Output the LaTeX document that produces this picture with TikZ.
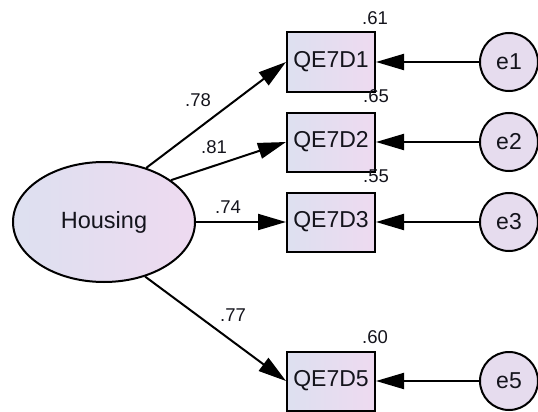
\documentclass[tikz,border=0pt]{standalone}
\usepackage{fontspec}
\setmainfont{Liberation Sans}
\usetikzlibrary{arrows.meta,shapes.geometric}
\definecolor{fillblue}{HTML}{DDE0F0}
\definecolor{fillpink}{HTML}{EEDAF0}
\definecolor{fillcirc}{HTML}{E6DCEE}
\definecolor{inktext}{HTML}{14141C}
\begin{document}
\begin{tikzpicture}[x=1pt,y=-1pt,
  every node/.style={text=inktext},
  latent/.style={ellipse,draw=black,line width=2pt,left color=fillblue,right color=fillpink,
    minimum width=182pt,minimum height=120pt,inner sep=0pt,font=\fontsize{23.5}{28}\selectfont},
  observed/.style={rectangle,draw=black,line width=2pt,left color=fillblue,right color=fillpink,
    minimum width=88pt,minimum height=59pt,inner sep=0pt,font=\fontsize{23}{28}\selectfont},
  errvar/.style={circle,draw=black,line width=2pt,fill=fillcirc,
    minimum size=58pt,inner sep=0pt,font=\fontsize{23}{28}\selectfont},
  path/.style={draw=black,line width=2pt,-{Triangle[length=28pt,width=16pt]}},
  coef/.style={font=\fontsize{18.5}{22}\selectfont,inner sep=0pt}
]
\useasboundingbox (0,0) rectangle (538,412);

% latent factor
\node[latent] (H) at (104,222) {Housing};

% indicators
\node[observed] (D1) at (331,62) {QE7D1};
\node[observed] (D2) at (331,142) {QE7D2};
\node[observed] (D3) at (331,222) {QE7D3};
\node[observed] (D5) at (331,381) {QE7D5};

% error terms
\node[errvar] (e1) at (509,62) {e1};
\node[errvar] (e2) at (509,142) {e2};
\node[errvar] (e3) at (509,222) {e3};
\node[errvar] (e5) at (509,381) {e5};

% factor loadings
\draw[path] (H.52) -- (D1.west);
\draw[path] (H.32) -- (D2.west);
\draw[path] (H.east) -- (D3.west);
\draw[path] (H.-53) -- (D5.west);

% error paths
\draw[path] (e1.west) -- (D1.east);
\draw[path] (e2.west) -- (D2.east);
\draw[path] (e3.west) -- (D3.east);
\draw[path] (e5.west) -- (D5.east);

% standardized loadings
\node[coef] (l1) at (198,100) {.78};
\node[coef] (l2) at (214,147) {.81};
\node[coef] (l3) at (228,207) {.74};
\node[coef] (l5) at (233,315) {.77};

% squared multiple correlations
\node[coef] (r1) at (375,18) {.61};
\node[coef] (r2) at (376,96) {.65};
\node[coef] (r3) at (376,176) {.55};
\node[coef] (r5) at (375,337) {.60};
\end{tikzpicture}
\end{document}
